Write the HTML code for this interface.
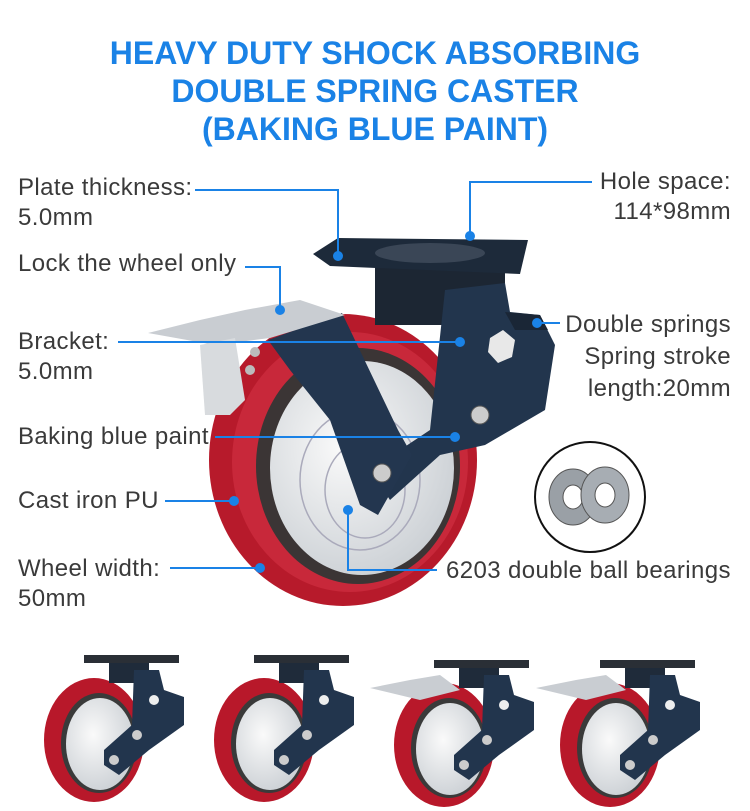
<!DOCTYPE html>
<html><head><meta charset="utf-8"><style>
html,body{margin:0;padding:0;background:#fff;width:750px;height:811px;overflow:hidden}
.t{position:absolute;left:0;width:750px;text-align:center;font:bold 32px "Liberation Sans",sans-serif;color:#1a82e6}
.l{position:absolute;font:24px "Liberation Sans",sans-serif;letter-spacing:0.4px;color:#3a3a3a;line-height:30px;white-space:nowrap}
.r{text-align:right;right:19px}
svg{position:absolute;left:0;top:0}
</style></head><body>
<div class="t" style="top:35px">HEAVY DUTY SHOCK ABSORBING</div>
<div class="t" style="top:73px">DOUBLE SPRING CASTER</div>
<div class="t" style="top:111px">(BAKING BLUE PAINT)</div>

<svg width="750" height="811" viewBox="0 0 750 811">
<defs>
<radialGradient id="hub" cx="0.4" cy="0.4" r="0.7"><stop offset="0" stop-color="#fafafa"/><stop offset="1" stop-color="#c8cdd2"/></radialGradient>
<g id="small">
  <ellipse cx="50" cy="85" rx="50" ry="62" fill="#b8182a"/>
  <ellipse cx="55" cy="88" rx="38" ry="50" fill="#3a3a3a"/>
  <ellipse cx="56" cy="89" rx="34" ry="46" fill="url(#hub)"/>
  <rect x="40" y="0" width="95" height="8" fill="#2a2f36"/>
  <rect x="65" y="8" width="40" height="20" fill="#1f2b3a"/>
  <polygon points="90,15 115,15 120,35 140,42 140,70 105,95 75,120 60,110 60,95 88,70" fill="#22354d"/>
  <circle cx="110" cy="45" r="5" fill="#eee"/>
  <circle cx="93" cy="80" r="5" fill="#ccc"/>
  <circle cx="70" cy="105" r="5" fill="#ccc"/>
</g>
</defs>

<ellipse cx="343" cy="460" rx="134" ry="146" fill="#b71a2b"/>
<ellipse cx="350" cy="462" rx="118" ry="130" fill="#c8283a"/>
<ellipse cx="358" cy="466" rx="102" ry="118" fill="#3b3535"/>
<ellipse cx="362" cy="468" rx="92" ry="107" fill="url(#hub)"/>
<ellipse cx="360" cy="480" rx="60" ry="70" fill="none" stroke="#aab" stroke-width="1.5"/>
<ellipse cx="365" cy="490" rx="40" ry="48" fill="none" stroke="#aab" stroke-width="1.5"/>
<rect x="375" y="265" width="130" height="60" fill="#1c2633"/>
<polygon points="313,254 338,238 528,240 520,274 330,266" fill="#1d2a3a"/>
<ellipse cx="430" cy="253" rx="55" ry="10" fill="#3a4656"/>
<polygon points="445,290 505,283 510,312 540,315 555,345 545,410 485,445 440,455 390,500 370,470 430,430" fill="#22354d"/>
<polygon points="505,312 540,315 548,330 515,330" fill="#1a2636"/>
<polygon points="490,338 503,330 515,340 512,357 498,363 488,352" fill="#e8e8e8"/>
<circle cx="480" cy="415" r="9" fill="#ccc" stroke="#555"/>
<polygon points="268,340 342,313 398,430 412,455 378,515 360,505 330,420 290,370" fill="#23364f"/>
<circle cx="382" cy="473" r="9" fill="#ccc" stroke="#555"/>
<polygon points="148,333 200,320 245,310 300,300 345,315 270,338 215,345" fill="#c9cdd2"/>
<polygon points="200,345 235,338 245,400 230,415 205,415" fill="#d8dbde"/>
<circle cx="255" cy="352" r="5" fill="#bbb"/><circle cx="250" cy="370" r="5" fill="#bbb"/>

<circle cx="590" cy="497" r="55" fill="#fff" stroke="#111" stroke-width="2"/>
<ellipse cx="573" cy="497" rx="24" ry="28" fill="#9aa0a6" stroke="#555"/>
<ellipse cx="573" cy="497" rx="10" ry="12" fill="#fff" stroke="#555"/>
<ellipse cx="605" cy="495" rx="24" ry="28" fill="#a7adb3" stroke="#555"/>
<ellipse cx="605" cy="495" rx="10" ry="12" fill="#fff" stroke="#555"/>

<g stroke="#1a82e6" stroke-width="2" fill="none">
<polyline points="195,190 338,190 338,256"/>
<polyline points="592,182 470,182 470,237"/>
<polyline points="245,267 280,267 280,310"/>
<line x1="118" y1="342" x2="460" y2="342"/>
<line x1="537" y1="323" x2="560" y2="323"/>
<line x1="215" y1="437" x2="455" y2="437"/>
<line x1="165" y1="501" x2="234" y2="501"/>
<line x1="170" y1="568" x2="260" y2="568"/>
<polyline points="348,510 348,570 437,570"/>
</g>
<g fill="#1a82e6">
<circle cx="338" cy="256" r="5"/><circle cx="470" cy="236" r="5"/><circle cx="280" cy="310" r="5"/>
<circle cx="460" cy="342" r="5"/><circle cx="537" cy="323" r="5"/><circle cx="455" cy="437" r="5"/>
<circle cx="234" cy="501" r="5"/><circle cx="260" cy="568" r="5"/><circle cx="348" cy="510" r="5"/>
</g>

<use href="#small" transform="translate(44,655)"/>
<use href="#small" transform="translate(214,655)"/>
<use href="#small" transform="translate(394,660)"/>
<use href="#small" transform="translate(560,660)"/>
<polygon points="370,688 410,680 440,675 460,690 420,700" fill="#c9cdd2"/>
<polygon points="536,688 576,680 606,675 626,690 586,700" fill="#c9cdd2"/>
</svg>

<div class="l" style="left:18px;top:173px">Plate thickness:<br>5.0mm</div>
<div class="l r" style="top:167px">Hole space:<br>114*98mm</div>
<div class="l" style="left:18px;top:249px">Lock the wheel only</div>
<div class="l" style="left:18px;top:327px">Bracket:<br>5.0mm</div>
<div class="l r" style="top:309px;line-height:32px">Double springs<br>Spring stroke<br>length:20mm</div>
<div class="l" style="left:18px;top:422px">Baking blue paint</div>
<div class="l" style="left:18px;top:486px">Cast iron PU</div>
<div class="l" style="left:18px;top:554px">Wheel width:<br>50mm</div>
<div class="l" style="left:446px;top:556px">6203 double ball bearings</div>
</body></html>
